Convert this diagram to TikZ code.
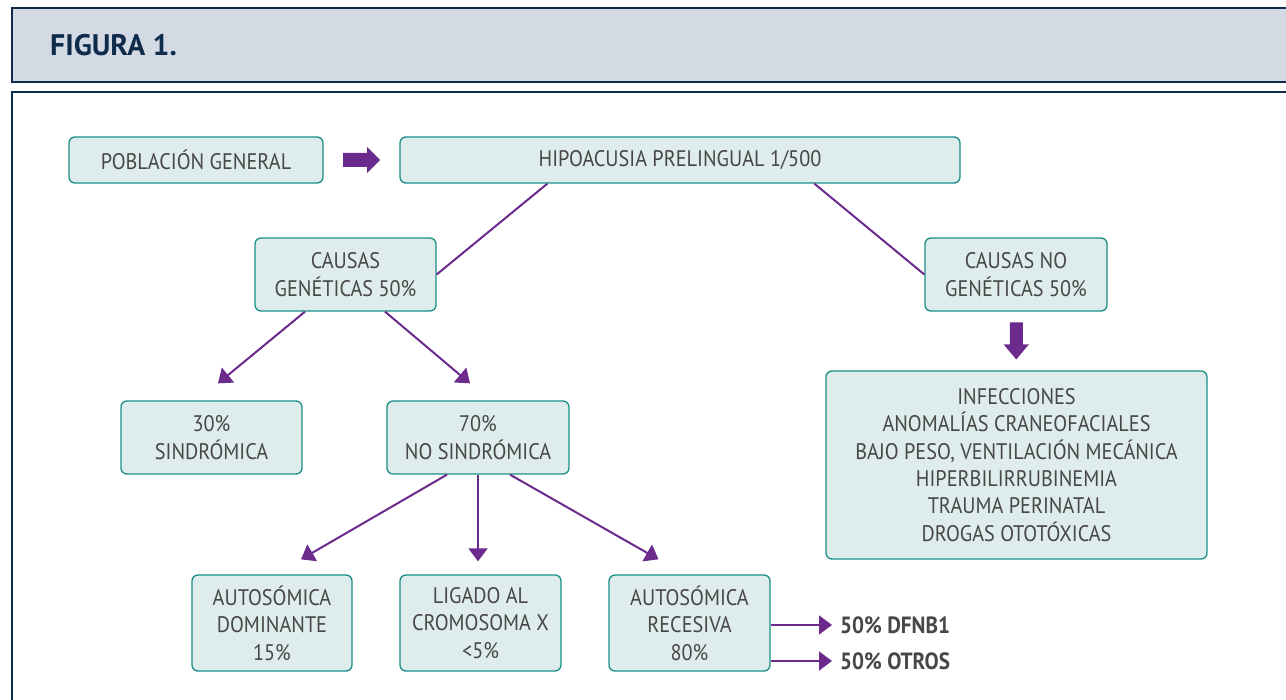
\documentclass[tikz,border=0pt]{standalone}
\usepackage{fontspec}
\setmainfont{PT Sans}[FakeStretch=0.9]
\newfontfamily\titlefont{PT Sans}
\usetikzlibrary{calc,arrows.meta}
\definecolor{navy}{HTML}{0E2B4C}
\definecolor{headfill}{HTML}{D3DAE4}
\definecolor{boxfill}{HTML}{DEECEB}
\definecolor{boxline}{HTML}{1A8F86}
\definecolor{purp}{HTML}{6B2A8C}
\definecolor{txt}{HTML}{474747}
\tikzset{
  x=1pt,y=-1pt,
  box/.style={draw=boxline, fill=boxfill, rounded corners=6pt, line width=1.3pt,
    text=txt, align=center, inner sep=0pt, font=\fontsize{22.5}{27.4}\selectfont},
  conn/.style={draw=purp, line width=2pt},
  arr/.style={conn, -{Triangle[length=13pt,width=19pt]}},
  lbl/.style={text=txt, font=\bfseries\fontsize{23.5}{26}\selectfont, anchor=west, inner sep=0pt}
}
\begin{document}
\begin{tikzpicture}
\useasboundingbox (0,0) rectangle (1286,700);
% frames
\draw[navy, line width=2pt, fill=headfill] (12,8) rectangle (1300,82);
\node[anchor=west, inner sep=0pt, text=navy, font=\titlefont\bfseries\fontsize{29.7}{32}\selectfont] (title) at (50,45) {FIGURA 1.};
\draw[navy, line width=2pt, fill=white] (12,92) rectangle (1300,712);

% nodes
\node[box, minimum width=254pt, minimum height=46pt] (pob) at (196,160) {POBLACIÓN GENERAL};
\node[box, minimum width=560pt, minimum height=46pt] (hipo) at (680,160) {HIPOACUSIA PRELINGUAL 1/500};
\node[box, minimum width=181pt, minimum height=73pt] (gen) at (345.5,274.5) {CAUSAS\\GENÉTICAS 50\%};
\node[box, minimum width=182pt, minimum height=73pt] (nogen) at (1016,274.5) {CAUSAS NO\\GENÉTICAS 50\%};
\node[box, minimum width=381pt, minimum height=188pt] (inf) at (1016.5,465) {INFECCIONES\\ANOMALÍAS CRANEOFACIALES\\BAJO PESO, VENTILACIÓN MECÁNICA\\HIPERBILIRRUBINEMIA\\TRAUMA PERINATAL\\DROGAS OTOTÓXICAS};
\node[box, minimum width=181pt, minimum height=73pt] (sind) at (211.5,437.5) {30\%\\SINDRÓMICA};
\node[box, minimum width=182pt, minimum height=73pt] (nosind) at (478,437.5) {70\%\\NO SINDRÓMICA};
\node[box, minimum width=160pt, minimum height=96pt] (dom) at (272,623) {AUTOSÓMICA\\DOMINANTE\\15\%};
\node[box, minimum width=161pt, minimum height=96pt] (lig) at (480.5,623) {LIGADO AL\\CROMOSOMA X\\<5\%};
\node[box, minimum width=161pt, minimum height=96pt] (rec) at (689.5,623) {AUTOSÓMICA\\RECESIVA\\80\%};
\node[lbl] (dfnb) at (840,625) {50\% DFNB1};
\node[lbl] (otros) at (840,661) {50\% OTROS};

% block arrows
\coordinate (pa) at ($(pob.east)!0.5!(hipo.west)$);
\fill[purp] ($(pa)+(-18.5,-7)$) -- ++(24,0) -- ++(0,-6) -- ++(13,13) -- ++(-13,13) -- ++(0,-6) -- ++(-24,0) -- cycle;
\coordinate (pb) at ($(nogen.south)!0.5!(inf.north)$);
\fill[purp] ($(pb)+(-6.5,-18.5)$) -- ++(13,0) -- ++(0,22) -- ++(6,0) -- ++(-12.5,15) -- ++(-12.5,-15) -- ++(6,0) -- cycle;

% connectors
\draw[conn] ($(hipo.south west)+(148,0)$) -- (gen.east);
\draw[conn] ($(hipo.south west)+(415,0)$) -- (nogen.west);
\draw[arr] ($(gen.south)+(-40.5,0)$) -- ($(sind.north)+(6.5,-17)$);
\draw[arr] ($(gen.south)+(39.5,0)$) -- ($(nosind.north)+(-8,-17)$);
\draw[arr] ($(nosind.south)+(-31,0)$) -- ($(dom.north)+(29,-15)$);
\draw[arr] (nosind.south) -- ($(lig.north)+(-2.5,-13)$);
\draw[arr] ($(nosind.south)+(32,0)$) -- ($(rec.north)+(-31,-15)$);
\draw[arr] (rec.east |- dfnb.west) -- ($(dfnb.west)+(-8,0)$);
\draw[arr] (rec.east |- otros.west) -- ($(otros.west)+(-8,0)$);
\end{tikzpicture}
\end{document}
